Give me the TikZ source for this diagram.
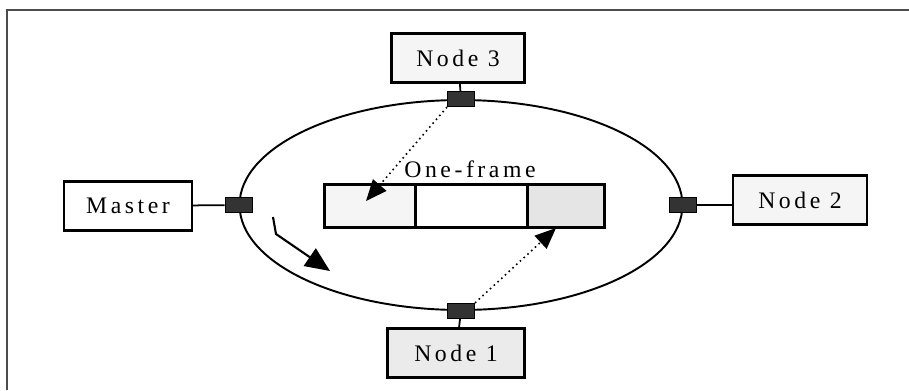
\documentclass[tikz,border=0pt]{standalone}
\usepackage{fontspec}
\setmainfont{Liberation Serif}
\newfontfamily\spacedfont[LetterSpace=15]{Liberation Serif}
\usetikzlibrary{shapes.geometric,arrows.meta}
\begin{document}
\begin{tikzpicture}[x=0.02cm, y=-0.02cm,
    box/.style={draw, line width=1.4pt, inner sep=0pt, minimum height=0.98cm, font=\spacedfont\fontsize{13.5}{15}\selectfont},
    port/.style={draw, line width=0.6pt, fill=black!80, inner sep=0pt, minimum width=0.54cm, minimum height=0.3cm},
    cell/.style={draw, line width=1.4pt, inner sep=0pt, minimum height=0.86cm},
    link/.style={line width=1pt},
    dotline/.style={dotted, line width=0.9pt, -{Triangle[length=12pt,width=10pt]}},
    flow/.style={line width=1.2pt, -{Triangle[length=14pt,width=12pt]}}]
    \useasboundingbox (0,0) rectangle (909,390);
    \draw[line width=1.4pt, black!70] (7,390) -- (7,10) -- (909,10);
    \node[draw, ellipse, line width=1.1pt, inner sep=0pt, minimum width=8.86cm, minimum height=4.2cm] (ring) at (461,205) {};
    \node[box, minimum width=2.56cm] (master) at (128,206) {Master};
    \node[box, minimum width=2.66cm, fill=gray!8] (node3) at (458,58) {Node 3};
    \node[box, minimum width=2.68cm, fill=gray!8] (node2) at (800,200) {Node 2};
    \node[box, minimum width=2.74cm, fill=gray!16] (node1) at (456,353) {Node 1};
    \node[port] (portM) at (ring.west) {};
    \node[port] (port3) at (ring.north) {};
    \node[port] (port2) at (ring.east) {};
    \node[port] (port1) at (ring.south) {};
    \draw[link] (master) -- (portM);
    \draw[link] (node3) -- (port3);
    \draw[link] (port2) -- (port2 -| node2.west);
    \draw[link] (node1) -- (port1);
    \node[cell, minimum width=1.82cm, fill=gray!8] (slotA) at (370,206) {};
    \node[cell, minimum width=2.24cm, fill=white] (slotB) at (472,206) {};
    \node[cell, minimum width=1.54cm, fill=gray!20] (slotC) at (566,206) {};
    \node[font=\spacedfont\fontsize{13.5}{15}\selectfont] (frame) at (470,169) {One-frame};
    \coordinate (tipA) at (366,201);
    \coordinate (tipC) at (556,228);
    \draw[dotline] (port3.south west) -- (tipA);
    \draw[dotline] (port1.north east) -- (tipC);
    \coordinate (flowA) at (273,217);
    \coordinate (flowB) at (276,234);
    \coordinate (flowC) at (330,271);
    \draw[flow] (flowA) -- (flowB) -- (flowC);
\end{tikzpicture}
\end{document}
